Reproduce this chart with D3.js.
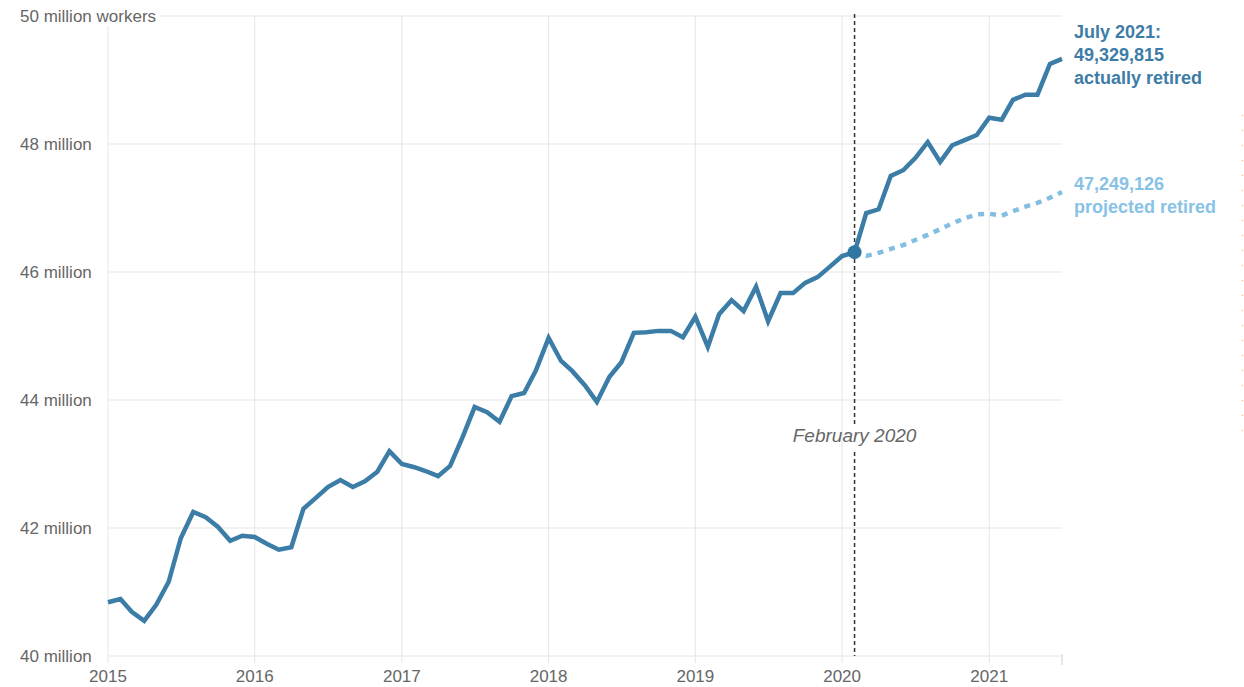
<!DOCTYPE html>
<html>
<head>
<meta charset="utf-8">
<script src="https://cdn.jsdelivr.net/npm/d3@7"></script>
<style>
  html, body { margin: 0; padding: 0; background: #fff; }
  svg { display: block; font-family: "Liberation Sans", Arial, sans-serif; }
</style>
</head>
<body>
<svg id="chart" width="1244" height="687"></svg>
<script>
// ---- data (millions of retired workers, monthly, Jan 2015 – Jul 2021) ----
const startMonth = "2015-01";
const actualValues = [
  40.84, 40.89, 40.69, 40.55, 40.80, 41.16, 41.84, 42.25, 42.17, 42.02, 41.80, 41.88,
  41.86, 41.75, 41.66, 41.70, 42.30, 42.47, 42.64, 42.75, 42.64, 42.73, 42.88, 43.20,
  43.00, 42.95, 42.89, 42.81, 42.97, 43.42, 43.89, 43.81, 43.66, 44.06, 44.11, 44.47,
  44.97, 44.61, 44.45, 44.23, 43.97, 44.36, 44.59, 45.05, 45.06, 45.08, 45.08, 44.98,
  45.30, 44.83, 45.34, 45.56, 45.39, 45.77, 45.23, 45.67, 45.67, 45.83, 45.92, 46.08,
  46.25, 46.31, 46.92, 46.98, 47.50, 47.59, 47.78, 48.03, 47.72, 47.98, 48.06, 48.14,
  48.41, 48.38, 48.69, 48.77, 48.77, 49.25, 49.329815
];
const projectedStart = "2020-02";
const projectedValues = [
  46.31, 46.25, 46.30, 46.36, 46.42, 46.50, 46.58, 46.67, 46.76, 46.84, 46.90,
  46.91, 46.88, 46.95, 47.02, 47.08, 47.16, 47.249126
];
const yTicks = [40, 42, 44, 46, 48, 50];
const yTickLabels = ["40 million", "42 million", "44 million", "46 million", "48 million", "50 million workers"];
const xTickYears = [2015, 2016, 2017, 2018, 2019, 2020, 2021];
const markerMonth = "2020-02";
const markerLabel = "February 2020";
const actualLabel = ["July 2021:", "49,329,815", "actually retired"];
const projectedLabel = ["47,249,126", "projected retired"];

// ---- helpers ----
const parseMonth = d3.utcParse("%Y-%m");
function monthSeries(start, values) {
  const s = parseMonth(start);
  return values.map((v, i) => ({ date: d3.utcMonth.offset(s, i), value: v }));
}
const actual = monthSeries(startMonth, actualValues);
const projected = monthSeries(projectedStart, projectedValues);

// ---- layout ----
const svg = d3.select("#chart");
const plotLeft = 108, plotRight = 1062, plotTop = 16, plotBottom = 656;

const x = d3.scaleUtc()
  .domain([actual[0].date, actual[actual.length - 1].date])
  .range([plotLeft, plotRight]);
const y = d3.scaleLinear().domain([40, 50]).range([plotBottom, plotTop]);

const gridColor = "#e5e5e5";
const textColor = "#666";
const actualColor = "#3b7da6";
const projColor = "#82bde2";

// horizontal gridlines
svg.append("g").selectAll("line").data(yTicks).join("line")
  .attr("x1", plotLeft).attr("x2", plotRight)
  .attr("y1", d => y(d)).attr("y2", d => y(d))
  .attr("stroke", gridColor).attr("stroke-width", 1);

// vertical gridlines + x ticks
const xDates = xTickYears.map(yr => new Date(Date.UTC(yr, 0, 1)));
svg.append("g").selectAll("line").data(xDates).join("line")
  .attr("x1", d => x(d)).attr("x2", d => x(d))
  .attr("y1", plotTop).attr("y2", plotBottom + 7)
  .attr("stroke", gridColor).attr("stroke-width", 1);
// end tick
svg.append("line")
  .attr("x1", x.range()[1]).attr("x2", x.range()[1])
  .attr("y1", plotBottom - 2).attr("y2", plotBottom + 9)
  .attr("stroke", "#cfcfcf").attr("stroke-width", 1);

// x tick labels
svg.append("g").selectAll("text").data(xDates).join("text")
  .attr("x", d => x(d)).attr("y", 682)
  .attr("text-anchor", "middle")
  .attr("fill", textColor).attr("font-size", 17)
  .text(d => d.getUTCFullYear());

// y tick labels (with white backing to mask the gridline)
const yLab = svg.append("g").selectAll("g").data(yTicks).join("g");
yLab.append("text")
  .attr("x", 20).attr("y", d => y(d) + 6)
  .attr("fill", textColor).attr("font-size", 17)
  .text((d, i) => yTickLabels[i]);
yLab.each(function () {
  const g = d3.select(this);
  const bb = g.select("text").node().getBBox();
  g.insert("rect", "text")
    .attr("x", bb.x - 2).attr("y", bb.y)
    .attr("width", bb.width + 6).attr("height", bb.height)
    .attr("fill", "#fff");
});

// February 2020 marker
const mx = x(parseMonth(markerMonth));
const labelY = 442;
svg.append("line")
  .attr("x1", mx).attr("x2", mx).attr("y1", plotTop - 2).attr("y2", labelY - 18)
  .attr("stroke", "#333").attr("stroke-width", 1.5).attr("stroke-dasharray", "4,3");
svg.append("line")
  .attr("x1", mx).attr("x2", mx).attr("y1", labelY + 10).attr("y2", plotBottom)
  .attr("stroke", "#333").attr("stroke-width", 1.5).attr("stroke-dasharray", "4,3");
svg.append("text")
  .attr("x", mx).attr("y", labelY)
  .attr("text-anchor", "middle")
  .attr("font-style", "italic").attr("font-size", 19)
  .attr("fill", "#666")
  .text(markerLabel);

// lines
const line = d3.line().x(d => x(d.date)).y(d => y(d.value));
svg.append("path").datum(projected)
  .attr("d", line)
  .attr("fill", "none").attr("stroke", projColor)
  .attr("stroke-width", 4.5).attr("stroke-dasharray", "6,6");
svg.append("path").datum(actual)
  .attr("d", line)
  .attr("fill", "none").attr("stroke", actualColor)
  .attr("stroke-width", 4.5).attr("stroke-linejoin", "miter");

// marker dot
const md = actual.find(d => +d.date === +parseMonth(markerMonth));
svg.append("circle")
  .attr("cx", x(md.date)).attr("cy", y(md.value)).attr("r", 7)
  .attr("fill", "#2f76a2");

// end labels
svg.append("text")
  .attr("x", 1074).attr("y", 38)
  .attr("fill", "#3d7ca6").attr("font-size", 18).attr("font-weight", "bold")
  .selectAll("tspan").data(actualLabel).join("tspan")
  .attr("x", 1074).attr("dy", (d, i) => i === 0 ? 0 : 23)
  .text(d => d);
svg.append("text")
  .attr("x", 1074).attr("y", 190)
  .attr("fill", "#88c2e6").attr("font-size", 18).attr("font-weight", "bold")
  .selectAll("tspan").data(projectedLabel).join("tspan")
  .attr("x", 1074).attr("dy", (d, i) => i === 0 ? 0 : 23)
  .text(d => d);

// faint dotted edge artifact on the right
svg.append("line")
  .attr("x1", 1242.5).attr("x2", 1242.5).attr("y1", 115).attr("y2", 432)
  .attr("stroke", "#e9a868").attr("stroke-width", 1).attr("stroke-dasharray", "1,14");
</script>
</body>
</html>
